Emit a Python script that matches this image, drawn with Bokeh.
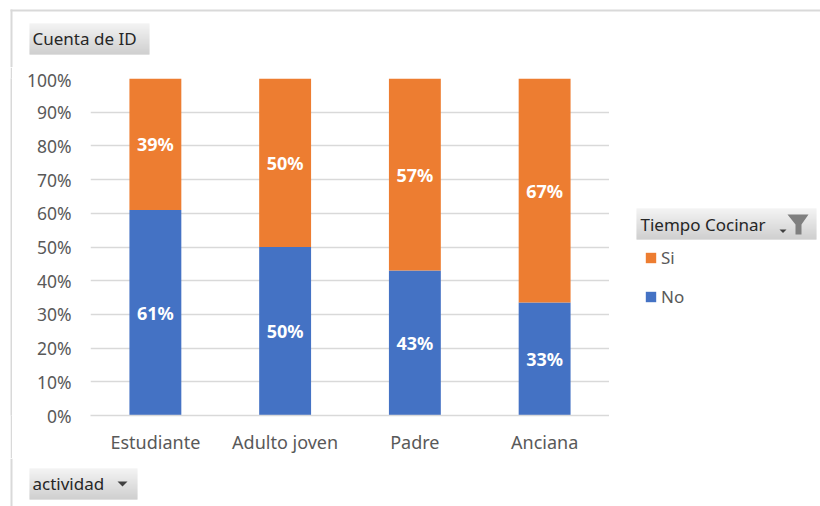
from bokeh.plotting import figure
from bokeh.layouts import column, row
from bokeh.models import (FactorRange, Legend, LegendItem, FixedTicker, NumeralTickFormatter,
                          ColumnDataSource)
from bokeh.core.properties import value
from bokeh.embed import file_html
from bokeh.resources import INLINE

categories = ["Estudiante", "Adulto joven", "Padre", "Anciana"]
no_values = [0.61, 0.50, 0.43, 0.335]
si_values = [0.39, 0.50, 0.57, 0.665]
no_labels = ["61%", "50%", "43%", "33%"]
si_labels = ["39%", "50%", "57%", "67%"]
y_ticks = [i / 10 for i in range(11)]
series = ["No", "Si"]
colors = ["#4472C4", "#ED7D31"]
value_title = "Cuenta de ID"
category_title = "actividad"
legend_title = "Tiempo Cocinar"

FONT = "Noto Sans"
BORDER = "#D9D9D9"
MID_TOP, FRAME_TOP, FRAME_BOTTOM, MID_BOTTOM = 67, 78, 415, 458


def strip(x0, y0, x1, y1, fill="white", **kw):
    """Chrome area whose data coordinates equal the reference's page pixels."""
    f = figure(width=x1 - x0, height=kw.pop("h", y1 - y0), output_backend="svg", toolbar_location=None,
               x_range=(x0, x1), y_range=(y1, y0), x_axis_type=None, y_axis_type=None,
               min_border=0, outline_line_color=None, border_fill_color=fill,
               background_fill_color=fill, **kw)
    f.grid.visible = False
    return f


def mid_strip(x0, x1, fill="white"):
    return strip(x0, FRAME_TOP, x1, FRAME_BOTTOM, fill=fill, h=MID_BOTTOM - MID_TOP,
                 min_border_top=FRAME_TOP - MID_TOP, min_border_bottom=MID_BOTTOM - FRAME_BOTTOM)


def button(f, x0, y0, x1, y1):
    n = y1 - y0
    shades = [int(240 - (240 - 192) * i / (n - 1)) for i in range(n)]
    f.quad(left=x0, right=x1, top=[y0 + i for i in range(n)], bottom=[y0 + i + 1 for i in range(n)],
           color=[f"#{v:02x}{v:02x}{v:02x}" for v in shades], line_color=None)


def caption(f, x, y, text):
    f.text(x=[x], y=[y], text=[text], text_color="#262626", text_font=value(FONT),
           text_font_size="17px", text_align="left", text_baseline="middle")


# ---- main chart
p = figure(width=597, height=MID_BOTTOM - MID_TOP, output_backend="svg", toolbar_location=None,
           x_range=FactorRange(*categories, range_padding=0, factor_padding=0, group_padding=0),
           y_range=(0, 1),
           min_border_left=78, min_border_right=0,
           min_border_top=FRAME_TOP - MID_TOP, min_border_bottom=MID_BOTTOM - FRAME_BOTTOM,
           outline_line_color=None, border_fill_color="white")
src = ColumnDataSource(dict(cat=categories, No=no_values, Si=si_values,
                            no_mid=[v / 2 for v in no_values],
                            si_mid=[n + s / 2 for n, s in zip(no_values, si_values)],
                            no_lab=no_labels, si_lab=si_labels))
p.vbar_stack(series, x="cat", width=0.4, color=colors, line_color=None, source=src)
for ymid, lab in (("no_mid", "no_lab"), ("si_mid", "si_lab")):
    p.text(x="cat", y=ymid, text=lab, source=src, text_color="white", text_font=value(FONT),
           text_font_size="18px", text_font_style="bold", text_align="center", text_baseline="middle")
p.ygrid.ticker = FixedTicker(ticks=y_ticks)
p.ygrid.grid_line_color = BORDER
p.ygrid.grid_line_width = 1.5
p.xgrid.visible = False
p.yaxis.ticker = FixedTicker(ticks=y_ticks)
p.yaxis.formatter = NumeralTickFormatter(format="0%")
p.yaxis.axis_line_color = None
p.yaxis.major_tick_line_color = None
p.yaxis.minor_tick_line_color = None
p.yaxis.major_tick_out = 0
p.yaxis.major_label_standoff = 19
p.xaxis.axis_line_color = BORDER
p.xaxis.axis_line_width = 1.5
p.xaxis.major_tick_line_color = None
p.xaxis.major_tick_out = 0
p.xaxis.major_label_standoff = 14
for ax, size in ((p.xaxis, "18px"), (p.yaxis, "17.5px")):
    ax.major_label_text_color = "#595959"
    ax.major_label_text_font = FONT
    ax.major_label_text_font_size = size

# ---- top strip
top = strip(0, 0, 820, MID_TOP)
top.quad(left=10, right=820, top=9, bottom=11, color=BORDER, line_color=None)
top.quad(left=10, right=12, top=9, bottom=MID_TOP, color=BORDER, line_color=None)
button(top, 29, 23, 149, 54)
caption(top, 32, 38, value_title)

# ---- left border of the chart area
gap = mid_strip(0, 10)
rule = mid_strip(10, 12, fill=BORDER)

# ---- right strip with the legend
right = mid_strip(609, 820)
button(right, 636, 208, 816, 239)
caption(right, 640, 224, legend_title)
right.patch([779, 786, 782.5], [229, 229, 232.5], color="#404040", line_color=None)
right.patch([787, 808, 801, 801, 795, 795], [214, 214, 224, 234, 234, 224], color="#7F7F7F", line_color=None)
key = [right.quad(left=[0], right=[1], top=[0], bottom=[1], color=c, line_color=None) for c in colors]
legend = Legend(items=[LegendItem(label=series[1], renderers=[key[1]]),
                       LegendItem(label=series[0], renderers=[key[0]])],
                location=(35, 107), orientation="vertical", background_fill_alpha=0,
                border_line_color=None, glyph_width=13, glyph_height=13, spacing=16, padding=0,
                margin=0, label_standoff=4, label_text_color="#595959", label_text_font=FONT,
                label_text_font_size="17px", label_height=19)
right.add_layout(legend, "center")

# ---- bottom strip
bottom = strip(0, MID_BOTTOM, 820, 506)
bottom.quad(left=10, right=12, top=MID_BOTTOM, bottom=506, color=BORDER, line_color=None)
button(bottom, 29, 468, 137, 499)
caption(bottom, 32, 483, category_title)
bottom.patch([117, 127, 122], [481, 481, 486], color="#404040", line_color=None)

page = column(top, row(gap, rule, p, right, spacing=0), bottom, spacing=0)
open("out.html", "w").write(file_html(page, INLINE))
